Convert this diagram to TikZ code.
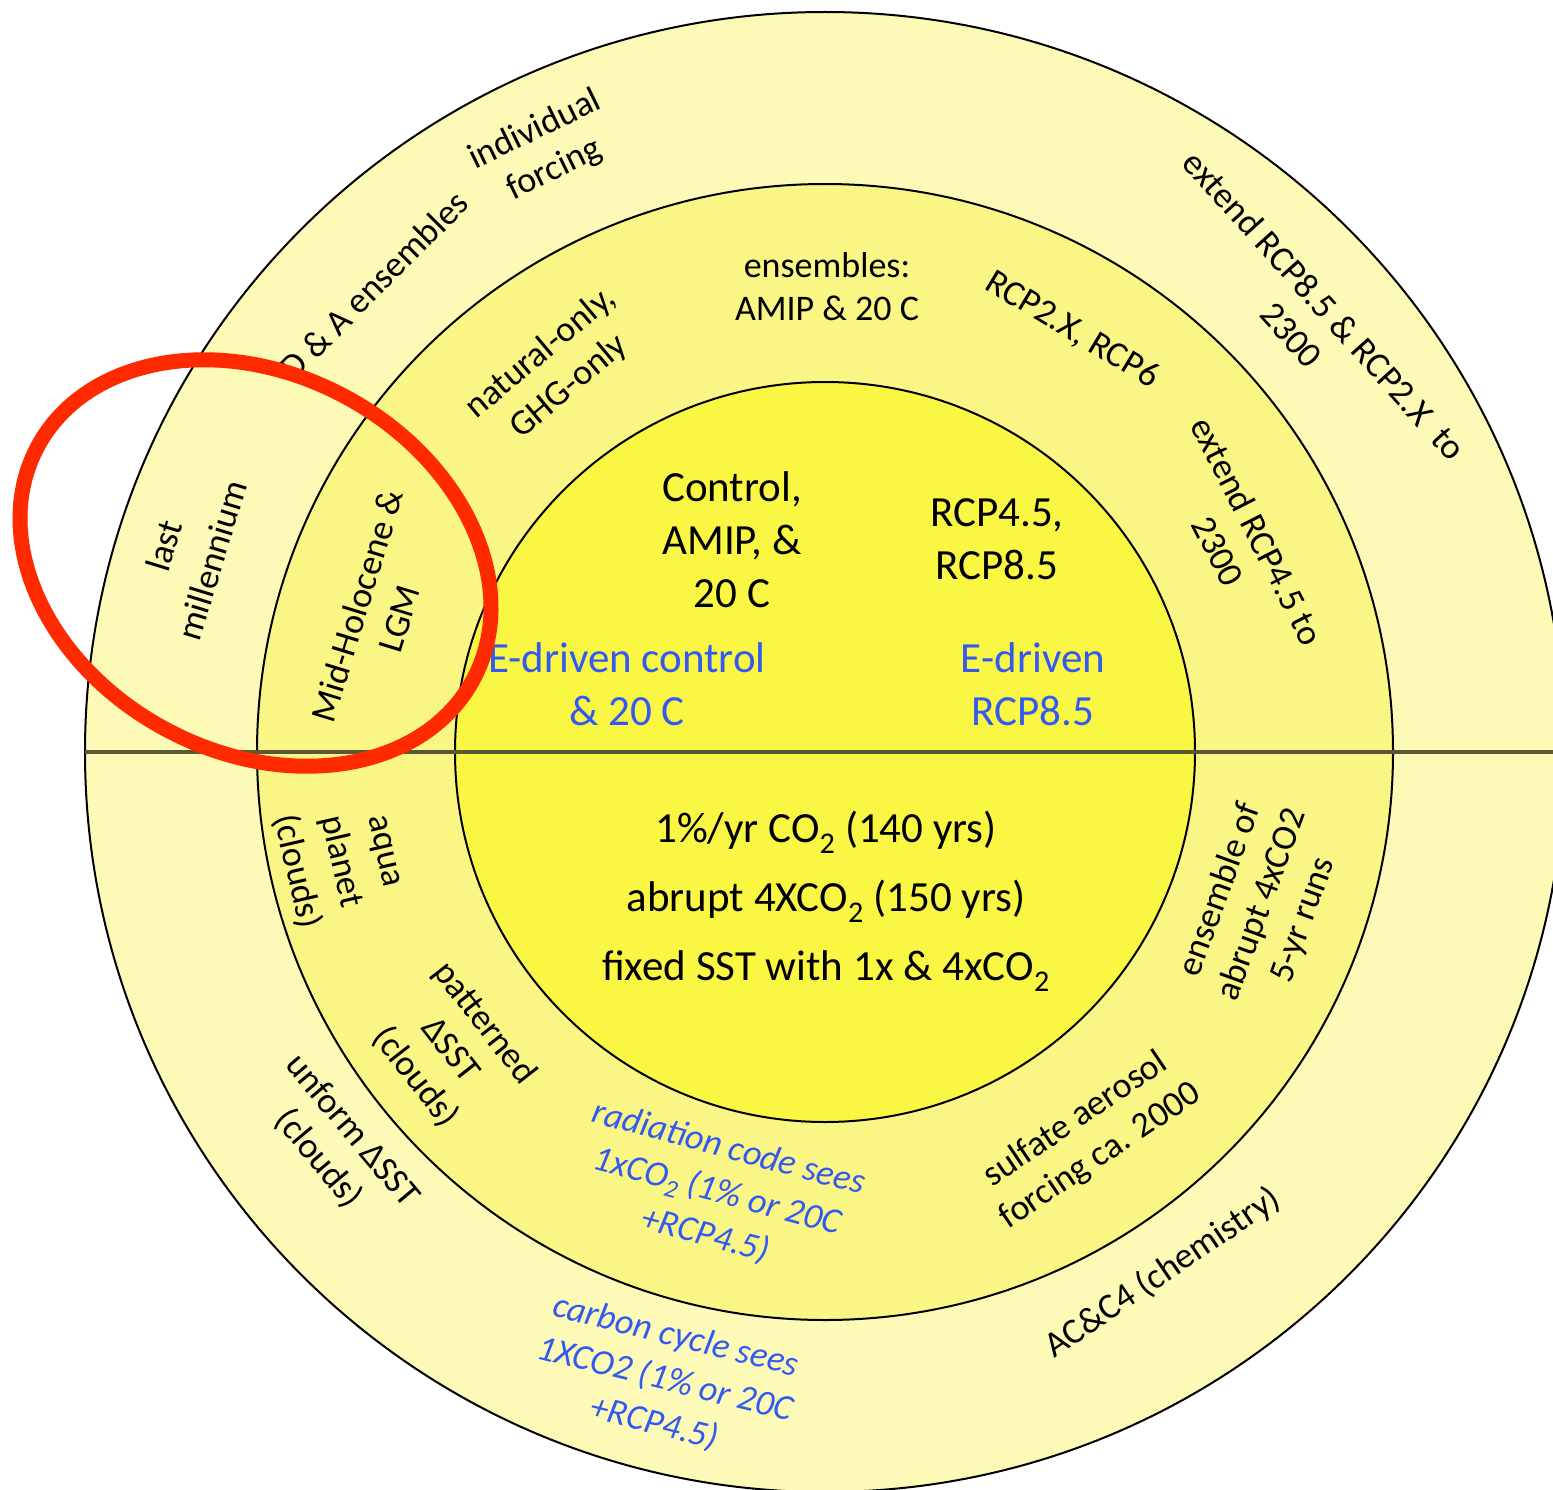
\documentclass[tikz,border=0pt]{standalone}
\usepackage{fontspec}
\setmainfont{Carlito}
\definecolor{ringout}{RGB}{252,250,182}
\definecolor{ringmid}{RGB}{250,246,133}
\definecolor{ringin}{RGB}{250,246,68}
\definecolor{txtblue}{RGB}{50,90,240}
\definecolor{markred}{RGB}{255,42,0}
\definecolor{divline}{RGB}{90,88,50}
\begin{document}
\begin{tikzpicture}[x=1pt,y=-1pt,
  ringlbl/.style={align=center, font=\fontsize{36}{44}\selectfont, inner sep=0pt},
  corelbl/.style={align=center, font=\fontsize{43}{53}\selectfont, inner sep=0pt},
  bluelbl/.style={text=txtblue},
  ringline/.style={draw=black, line width=2pt}]
\useasboundingbox (0,0) rectangle (1553,1490);
\clip (0,0) rectangle (1553,1490);
\fill[white] (0,0) rectangle (1553,1490);
\coordinate (O) at (825,752);
\draw[ringline, fill=ringout] (O) circle [radius=740pt];
\draw[ringline, fill=ringmid] (O) circle [radius=568pt];
\draw[ringline, fill=ringin] (O) circle [radius=370pt];
\coordinate (divL) at (85,752);
\coordinate (divR) at (1565,752);
\draw[divline, line width=4pt] (divL) -- (divR);

% core
\node[corelbl] (ctrl) at (732,540) {Control,\\AMIP, \&\\20 C};
\node[corelbl] (rcp) at (997,539) {RCP4.5,\\RCP8.5};
\node[corelbl, bluelbl] (edc) at (627,684) {E-driven control\\\& 20 C};
\node[corelbl, bluelbl] (edr) at (1033,684) {E-driven\\RCP8.5};
\node[corelbl, font=\fontsize{43}{69}\selectfont] (co2) at (826,901)
  {1\%/yr CO\textsubscript{2} (140 yrs)\\abrupt 4XCO\textsubscript{2} (150 yrs)\\fixed SST with 1x \& 4xCO\textsubscript{2}};

% middle ring
\node[ringlbl, font=\fontsize{36}{43}\selectfont] (ens) at (827,287) {ensembles:\\AMIP \& 20 C};
\node[ringlbl, rotate=40] (nat) at (555,370) {natural-only,\\GHG-only};
\node[ringlbl, rotate=-31] (rcp26) at (1072,330) {RCP2.X, RCP6};
\node[ringlbl, rotate=-63] (ext45) at (1238,541) {extend RCP4.5 to\\2300};
\node[ringlbl, rotate=73] (midh) at (378,612) {Mid-Holocene \&\\LGM};
\node[ringlbl, rotate=-77, font=\fontsize{36}{46}\selectfont] (aqua) at (338,862) {aqua\\planet\\(clouds)};
\node[ringlbl, rotate=-52] (patt) at (450,1050) {patterned\\ΔSST\\(clouds)};
\node[ringlbl, bluelbl, rotate=-15, font=\fontsize{36}{45}\selectfont\itshape] (rad) at (717,1192)
  {radiation code sees\\1xCO\textsubscript{2} (1\% or 20C\\+RCP4.5)};
\node[ringlbl, rotate=34] (sulf) at (1088,1138) {sulfate aerosol\\forcing ca. 2000};
\node[ringlbl, rotate=70] (ensab) at (1262,905) {ensemble of\\abrupt 4xCO2\\5-yr runs};

% outer ring
\node[ringlbl, rotate=26] (indiv) at (545,150) {individual\\forcing};
\node[ringlbl, rotate=45] (dna) at (374,285) {D \& A ensembles};
\node[ringlbl, rotate=-48] (ext85) at (1308,320) {extend RCP8.5 \& RCP2.X\ \ to\\2300};
\node[ringlbl, rotate=73, font=\fontsize{36}{50}\selectfont] (lastm) at (188,553) {last\\millennium};
\node[ringlbl, rotate=-50] (unif) at (335,1145) {unform ΔSST\\(clouds)};
\node[ringlbl, bluelbl, rotate=-14, font=\fontsize{36}{45}\selectfont\itshape] (carb) at (665,1380)
  {carbon cycle sees\\1XCO2 (1\% or 20C\\+RCP4.5)};
\node[ringlbl, rotate=34] (chem) at (1163,1273) {AC\&C4 (chemistry)};

% highlight
\draw[markred, line width=15pt, shift={(255.5,563)}, rotate=-28] (0,0) ellipse [x radius=247pt, y radius=189pt];
\end{tikzpicture}
\end{document}
